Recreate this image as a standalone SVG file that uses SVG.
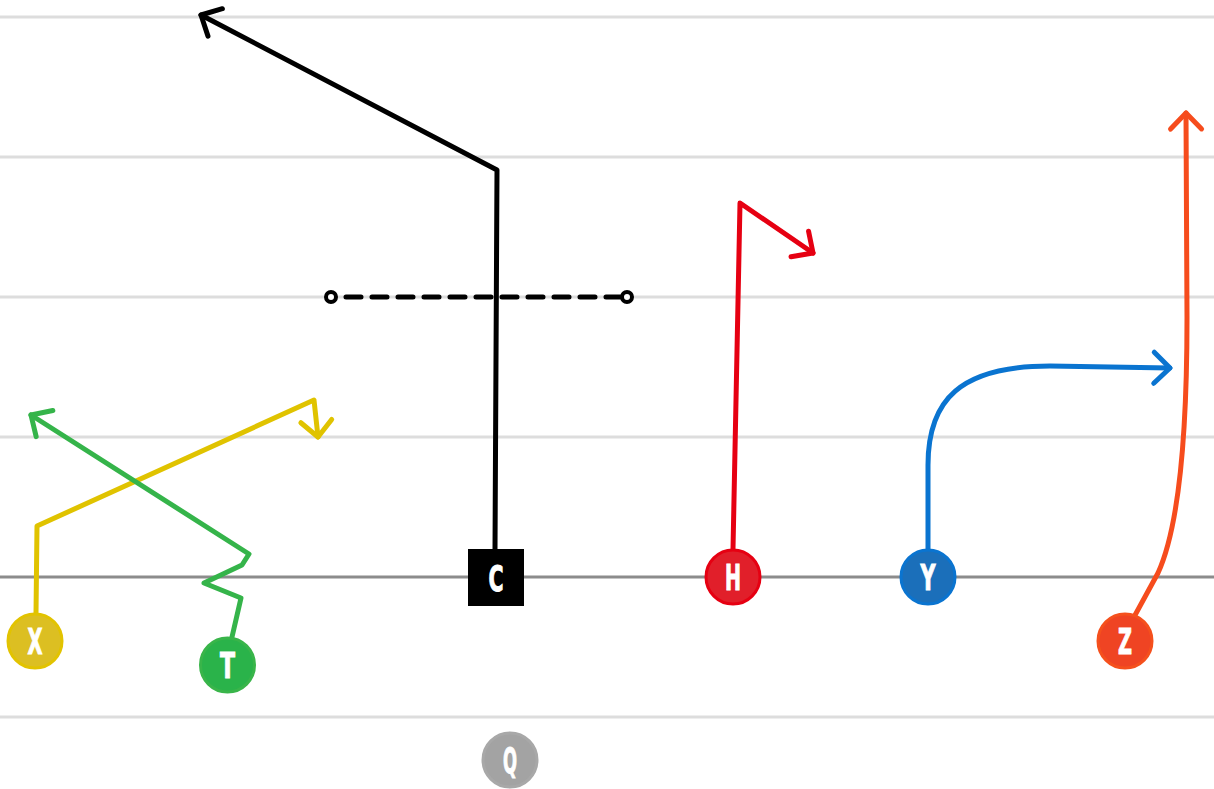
<svg xmlns="http://www.w3.org/2000/svg" width="1214" height="789" viewBox="0 0 1214 789">
<style>
.grid{stroke:#dddddd;stroke-width:3}
.los{stroke:#8c8c8c;stroke-width:3}
.route{fill:none;stroke-width:5;stroke-linecap:round;stroke-linejoin:round}
.lbl{font-family:"Liberation Sans Narrow","DejaVu Sans Condensed","Liberation Sans",sans-serif;font-weight:bold;font-size:35px;fill:#ffffff;stroke:#ffffff;stroke-width:1;text-anchor:middle}
.ah{fill:none;stroke-width:5;stroke-linecap:round;stroke-linejoin:round}
</style>
<defs>
<marker id="aK" markerUnits="userSpaceOnUse" orient="auto" overflow="visible" markerWidth="1" markerHeight="1"><path class="ah" stroke="#000000" d="M-16,-15.5 L0,0 L-16,15.5"/></marker>
<marker id="aR" markerUnits="userSpaceOnUse" orient="auto" overflow="visible" markerWidth="1" markerHeight="1"><path class="ah" stroke="#e60012" d="M-16,-15.5 L0,0 L-16,15.5"/></marker>
<marker id="aB" markerUnits="userSpaceOnUse" orient="auto" overflow="visible" markerWidth="1" markerHeight="1"><path class="ah" stroke="#0a74d0" d="M-16,-15.5 L0,0 L-16,15.5"/></marker>
<marker id="aO" markerUnits="userSpaceOnUse" orient="auto" overflow="visible" markerWidth="1" markerHeight="1"><path class="ah" stroke="#f64c1d" d="M-16,-15.5 L0,0 L-16,15.5"/></marker>
<marker id="aY" markerUnits="userSpaceOnUse" orient="auto" overflow="visible" markerWidth="1" markerHeight="1"><path class="ah" stroke="#e0c300" d="M-16,-15.5 L0,0 L-16,15.5"/></marker>
<marker id="aG" markerUnits="userSpaceOnUse" orient="auto" overflow="visible" markerWidth="1" markerHeight="1"><path class="ah" stroke="#35b44a" d="M-16,-15.5 L0,0 L-16,15.5"/></marker>
</defs>
<rect width="1214" height="789" fill="#ffffff"/>
<g id="field">
<line class="grid" x1="0" y1="17" x2="1214" y2="17"/>
<line class="grid" x1="0" y1="157" x2="1214" y2="157"/>
<line class="grid" x1="0" y1="297" x2="1214" y2="297"/>
<line class="grid" x1="0" y1="437" x2="1214" y2="437"/>
<line class="grid" x1="0" y1="717" x2="1214" y2="717"/>
<line class="los" x1="0" y1="577" x2="1214" y2="577"/>
</g>
<g id="connectors">
<path class="route" stroke="#000000" d="M495,549 L497,170 L201,15" marker-end="url(#aK)"/>
<line class="route" stroke="#000000" stroke-width="6" x1="338" y1="297" x2="620" y2="297" stroke-dasharray="15 11" stroke-dashoffset="-8"/>
<circle cx="331" cy="297" r="5" fill="#ffffff" stroke="#000000" stroke-width="4"/>
<circle cx="627" cy="297" r="5" fill="#ffffff" stroke="#000000" stroke-width="4"/>
<path class="route" stroke="#e60012" d="M733,549 L740,203 L813,253" marker-end="url(#aR)"/>
<path class="route" stroke="#0a74d0" d="M928,549 L928,465 C928,400 960,366 1050,366 L1170,368" marker-end="url(#aB)"/>
<path class="route" stroke="#f64c1d" d="M1134,617 L1158,573 C1180,525 1187,430 1187,318 L1186,113" marker-end="url(#aO)"/>
<path class="route" stroke="#e0c300" d="M36,613 L37,526 L314,400 L318,437" marker-end="url(#aY)"/>
<path class="route" stroke="#35b44a" d="M232,637 L241,598 L204,583 L242,565 L249,554 L31,415" marker-end="url(#aG)"/>
</g>
<g id="node-C">
<rect x="468" y="549" width="56" height="57" fill="#000000"/>
<text class="lbl" x="496" y="591" textLength="15" lengthAdjust="spacingAndGlyphs">C</text>
</g>
<g id="node-H">
<circle cx="733" cy="577" r="27" fill="#e11f2a" stroke="#e60012" stroke-width="3"/>
<text class="lbl" x="733" y="590" textLength="16" lengthAdjust="spacingAndGlyphs">H</text>
</g>
<g id="node-Y">
<circle cx="928" cy="577" r="27" fill="#1b6fba" stroke="#0a74d0" stroke-width="3"/>
<text class="lbl" x="928" y="590" textLength="15" lengthAdjust="spacingAndGlyphs">Y</text>
</g>
<g id="node-Z">
<circle cx="1125" cy="641" r="27" fill="#ef4423" stroke="#f5501d" stroke-width="3"/>
<text class="lbl" x="1125" y="654" textLength="14" lengthAdjust="spacingAndGlyphs">Z</text>
</g>
<g id="node-X">
<circle cx="35" cy="641" r="27" fill="#dcbf22" stroke="#e2c300" stroke-width="3"/>
<text class="lbl" x="35" y="654" textLength="15" lengthAdjust="spacingAndGlyphs">X</text>
</g>
<g id="node-T">
<circle cx="227.5" cy="665" r="27" fill="#2ab34a" stroke="#39b54a" stroke-width="3"/>
<text class="lbl" x="227.5" y="678" textLength="15" lengthAdjust="spacingAndGlyphs">T</text>
</g>
<g id="node-Q">
<circle cx="510" cy="760" r="27" fill="#a3a3a3" stroke="#a8a8a8" stroke-width="3"/>
<text class="lbl" x="510" y="773" textLength="14" lengthAdjust="spacingAndGlyphs">Q</text>
</g>
</svg>
